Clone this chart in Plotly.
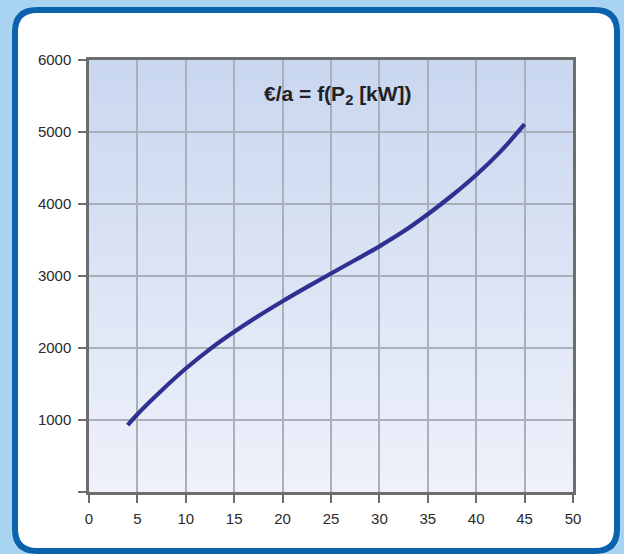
import plotly.graph_objects as go

# Data
power_kw = [4, 5, 7.5, 10, 12.5, 15, 17.5, 20, 22.5, 25, 27.5, 30, 32.5, 35, 37.5, 40, 42.5, 45]
cost_eur = [930, 1080, 1410, 1715, 1985, 2225, 2445, 2650, 2845, 3035, 3222, 3412, 3620, 3858, 4118, 4403, 4728, 5108]
x_ticks = [0, 5, 10, 15, 20, 25, 30, 35, 40, 45, 50]
y_ticks = [0, 1000, 2000, 3000, 4000, 5000, 6000]
y_tick_text = ["", "1000", "2000", "3000", "4000", "5000", "6000"]

W, H = 624, 554
L, R, T, B = 89, 51, 60, 62
pw, ph = W - L - R, H - T - B

def px2paper_x(px):
    return (px - L) / pw

def px2paper_y(py):
    return (H - B - py) / ph

fig = go.Figure()
fig.add_trace(go.Scatter(
    x=power_kw, y=cost_eur, mode="lines",
    line=dict(color="#2e3192", width=4.2, shape="spline", smoothing=1.0),
    hoverinfo="skip", showlegend=False,
))

shapes = []
# white rounded panel with dark blue border
x0, x1 = px2paper_x(15), px2paper_x(617)
y0, y1 = px2paper_y(551), px2paper_y(10)
r = 22
rx, ry = r / pw, r / ph
path = (f"M {x0+rx},{y1} L {x1-rx},{y1} Q {x1},{y1} {x1},{y1-ry} "
        f"L {x1},{y0+ry} Q {x1},{y0} {x1-rx},{y0} L {x0+rx},{y0} "
        f"Q {x0},{y0} {x0},{y0+ry} L {x0},{y1-ry} Q {x0},{y1} {x0+rx},{y1} Z")
shapes.append(dict(type="path", path=path, xref="paper", yref="paper",
                   fillcolor="white", line=dict(color="#0b62ad", width=6), layer="below"))

# vertical gradient in plot area
top = (201, 215, 239)
bot = (238, 241, 250)
n = 60
for i in range(n):
    t = i / (n - 1)
    c = tuple(round(top[k] + (bot[k] - top[k]) * t) for k in range(3))
    shapes.append(dict(type="rect", xref="paper", yref="paper",
                       x0=0, x1=1, y0=1 - (i + 1) / n, y1=1 - i / n + 0.002,
                       fillcolor=f"rgb{c}", line=dict(width=0), layer="below"))

fig.update_layout(
    width=W, height=H,
    margin=dict(l=L, r=R, t=T, b=B, pad=0),
    paper_bgcolor="#a9d4f1",
    plot_bgcolor="rgba(0,0,0,0)",
    shapes=shapes,
    font=dict(family="Liberation Sans, Arial, sans-serif", size=15, color="#2a2a2a"),
    annotations=[dict(
        text="<b>€/a = f(P<sub>2</sub> [kW])</b>",
        x=px2paper_x(338), y=px2paper_y(95), xref="paper", yref="paper",
        showarrow=False, font=dict(size=21, color="#222222"),
        xanchor="center", yanchor="middle",
    )],
)
fig.update_xaxes(
    range=[0, 50], tickvals=x_ticks, ticks="outside", ticklen=8, tickwidth=2,
    tickcolor="#6d6d6d", showline=True, linecolor="#6d6d6d", linewidth=2.5,
    mirror=True, showgrid=True, gridcolor="#a9b0bb", gridwidth=1.6,
    zeroline=False, fixedrange=True, ticklabelstandoff=3,
)
fig.update_yaxes(
    range=[0, 6000], tickvals=y_ticks, ticktext=y_tick_text, ticks="outside",
    ticklen=8, tickwidth=2, tickcolor="#6d6d6d", showline=True,
    linecolor="#6d6d6d", linewidth=2.5, mirror=True, showgrid=True,
    gridcolor="#a9b0bb", gridwidth=1.6, zeroline=False, fixedrange=True,
    ticklabelstandoff=4,
)

fig.write_html(
    "out.html",
    config={"displayModeBar": False},
    post_script="document.body.style.margin='0';document.body.style.padding='0';",
)
